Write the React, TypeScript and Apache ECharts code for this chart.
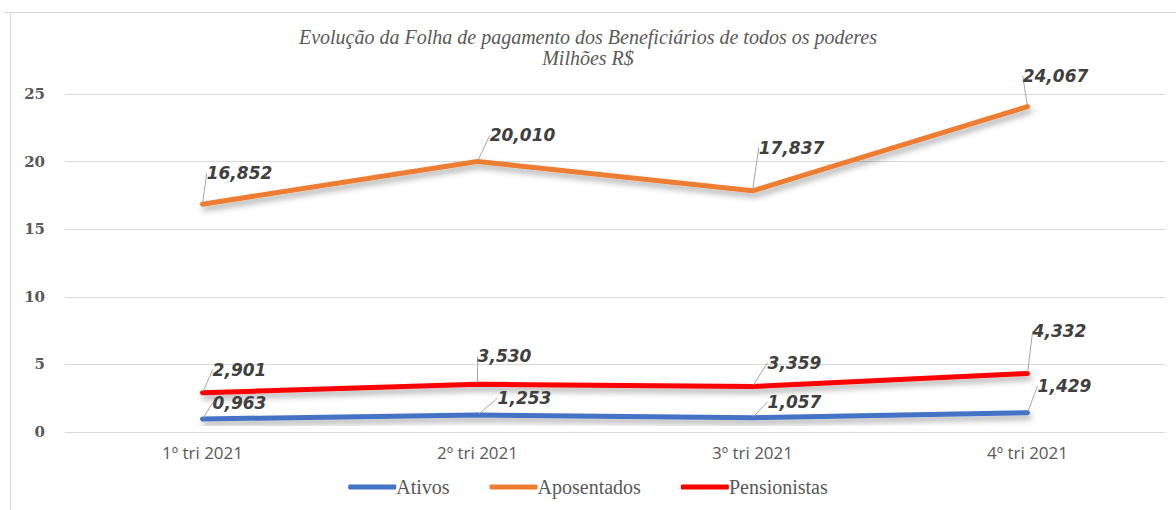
import React, { useEffect, useRef } from "react";
import * as echarts from "echarts";

const categories = ["1º tri 2021", "2º tri 2021", "3º tri 2021", "4º tri 2021"];
const ativos = [0.963, 1.253, 1.057, 1.429];
const aposentados = [16.852, 20.01, 17.837, 24.067];
const pensionistas = [2.901, 3.53, 3.359, 4.332];
const yTicks = [0, 5, 10, 15, 20, 25];

// label offsets (styling): [series][point] -> [dx, dy]
const labelOffsets: number[][][] = [
  [[37, -16], [47, -17], [42, -16], [37, -27]],
  [[37, -31], [45, -26], [39, -43], [28, -31]],
  [[37, -23], [27, -28], [42, -24], [32, -42]],
];

const fmt = (v: number) => v.toFixed(3).replace(".", ",");

export default function App() {
  const ref = useRef<HTMLDivElement>(null);
  useEffect(() => {
    if (!ref.current) return;
    const chart = echarts.init(ref.current, undefined, { renderer: "svg" });
    const mk = (name: string, data: number[], color: string) => ({
      name,
      type: "line",
      data,
      symbol: "circle",
      symbolSize: 3,
      itemStyle: { color },
      lineStyle: {
        width: 5,
        color,
        cap: "round",
        shadowColor: "rgba(0,0,0,0.35)",
        shadowBlur: 6,
        shadowOffsetX: 2,
        shadowOffsetY: 4,
      },
      label: {
        show: true,
        position: "inside",
        formatter: (p: any) => fmt(p.value),
        fontFamily: "DejaVu Sans",
        fontStyle: "italic",
        fontWeight: "bold",
        fontSize: 17,
        color: "#404040",
      },
      labelLine: {
        show: true,
        lineStyle: { color: "#a6a6a6", width: 1 },
      },
      labelLayout: (params: any) => {
        const off = labelOffsets[params.seriesIndex][params.dataIndex];
        return { dx: off[0], dy: off[1] };
      },
      emphasis: { disabled: true },
    });
    chart.setOption({
      animation: false,
      backgroundColor: "#ffffff",
      title: {
        text: "Evolução da Folha de pagamento dos Beneficiários de todos os poderes\nMilhões R$",
        left: "center",
        top: 21,
        textStyle: {
          fontFamily: "Liberation Serif",
          fontStyle: "italic",
          fontWeight: "normal",
          fontSize: 20,
          color: "#595959",
          lineHeight: 21,
        },
      },
      legend: {
        bottom: 8,
        left: "center",
        itemWidth: 48,
        itemHeight: 5,
        itemGap: 40,
        icon: "roundRect",
        textStyle: {
          fontFamily: "Liberation Serif",
          fontSize: 20,
          color: "#595959",
          padding: [0, 0, 0, -5],
        },
        data: ["Ativos", "Aposentados", "Pensionistas"],
      },
      grid: { left: 65, right: 11, top: 94, bottom: 78 },
      xAxis: {
        type: "category",
        data: categories,
        boundaryGap: true,
        axisLine: { lineStyle: { color: "#d9d9d9", width: 1 } },
        axisTick: { show: false },
        axisLabel: {
          fontFamily: "Open Sans",
          fontSize: 17,
          color: "#595959",
          margin: 12,
        },
      },
      yAxis: {
        type: "value",
        min: yTicks[0],
        max: yTicks[yTicks.length - 1],
        interval: 5,
        axisLine: { show: false },
        axisTick: { show: false },
        splitLine: { lineStyle: { color: "#d9d9d9", width: 1 } },
        axisLabel: {
          fontFamily: "DejaVu Serif",
          fontWeight: "bold",
          fontSize: 15,
          color: "#595959",
          margin: 20,
        },
      },
      graphic: [
        { type: "line", shape: { x1: 4, y1: 12.5, x2: 1176, y2: 12.5 }, style: { stroke: "#d9d9d9", lineWidth: 1 } },
        { type: "line", shape: { x1: 10.5, y1: 12, x2: 10.5, y2: 510 }, style: { stroke: "#d9d9d9", lineWidth: 1 } },
      ],
      series: [
        mk("Ativos", ativos, "#4472C4"),
        mk("Aposentados", aposentados, "#ED7D31"),
        mk("Pensionistas", pensionistas, "#FF0000"),
      ],
    });
    return () => chart.dispose();
  }, []);
  return (
    <div
      ref={ref}
      style={{ position: "absolute", left: 0, top: 0, width: 1176, height: 510 }}
    />
  );
}
